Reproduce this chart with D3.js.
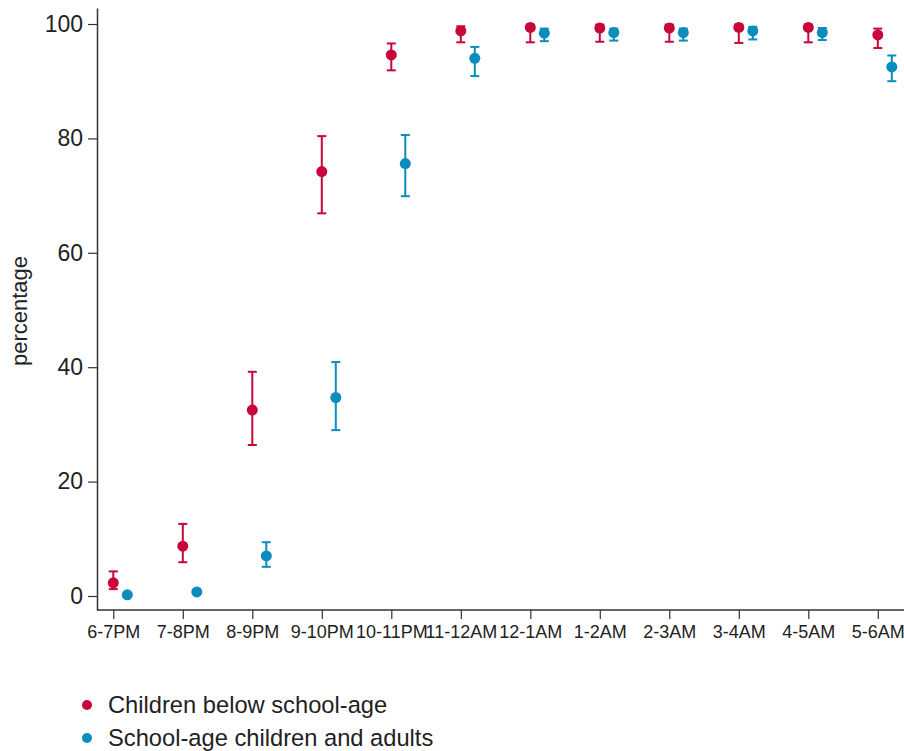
<!DOCTYPE html>
<html>
<head>
<meta charset="utf-8">
<script src="https://cdn.jsdelivr.net/npm/d3@7/dist/d3.min.js"></script>
<style>
  html, body { margin: 0; padding: 0; background: #fff; }
  svg { display: block; font-family: "Liberation Sans", Arial, sans-serif; }
</style>
</head>
<body>
<svg id="chart" width="904" height="751"></svg>
<script>
// ---- data ----
const categories = ["6-7PM","7-8PM","8-9PM","9-10PM","10-11PM","11-12AM","12-1AM","1-2AM","2-3AM","3-4AM","4-5AM","5-6AM"];
const seriesNames = ["Children below school-age", "School-age children and adults"];
const redValues = [2.3, 8.7, 32.5, 74.2, 94.6, 98.8, 99.4, 99.3, 99.3, 99.4, 99.4, 98.1];
const redLow    = [1.2, 5.9, 26.4, 66.9, 91.9, 96.8, 96.8, 96.9, 96.9, 96.7, 96.8, 95.8];
const redHigh   = [4.3, 12.6, 39.2, 80.4, 96.6, 99.6, 99.9, 99.9, 99.9, 99.9, 99.9, 99.2];
const blueValues = [0.2, 0.7, 7.0, 34.7, 75.6, 94.0, 98.4, 98.5, 98.5, 98.8, 98.5, 92.5];
const blueLow    = [0.1, 0.5, 5.1, 29.0, 69.9, 90.9, 97.0, 97.1, 97.1, 97.3, 97.2, 90.0];
const blueHigh   = [0.3, 0.9, 9.4, 40.9, 80.6, 96.0, 99.2, 99.2, 99.2, 99.5, 99.3, 94.5];
const yTicks = [0, 20, 40, 60, 80, 100];
const yLabel = "percentage";

// ---- styles ----
const colors = ["#c8063a", "#0a8cbc"];
const axisColor = "#333";

const svg = d3.select("#chart");

const x = d3.scalePoint().domain(categories).range([113.3, 877.8]);
const y = d3.scaleLinear().domain([-2.45, 102.8]).range([610, 8]);
const offset = [0, 14];

// y axis
const yAxis = svg.append("g")
  .attr("transform", "translate(97,0)")
  .call(d3.axisLeft(y).tickValues(yTicks).tickSize(9).tickSizeOuter(0).tickPadding(5));
yAxis.select(".domain").attr("stroke", axisColor).attr("stroke-width", 1.5);
yAxis.selectAll(".tick line").attr("stroke", axisColor).attr("stroke-width", 1.2);
yAxis.selectAll(".tick text").attr("font-size", 23).attr("fill", "#222")
  .attr("font-family", "Liberation Sans, Arial, sans-serif");

// x axis
const xAxis = svg.append("g")
  .attr("transform", "translate(0,610)")
  .call(d3.axisBottom(x).tickSize(9).tickSizeOuter(0).tickPadding(6));
xAxis.select(".domain").remove();
xAxis.append("line").attr("x1", 97).attr("x2", 904).attr("y1", 0).attr("y2", 0)
  .attr("stroke", axisColor).attr("stroke-width", 1.5);
xAxis.selectAll(".tick line").attr("stroke", axisColor).attr("stroke-width", 1.2);
xAxis.selectAll(".tick text").attr("font-size", 18).attr("fill", "#222")
  .attr("font-family", "Liberation Sans, Arial, sans-serif");

// y label
svg.append("text")
  .attr("transform", "translate(27,311) rotate(-90)")
  .attr("text-anchor", "middle")
  .attr("font-size", 22)
  .attr("fill", "#222")
  .text(yLabel);

// series
const series = [
  {vals: redValues, lo: redLow, hi: redHigh},
  {vals: blueValues, lo: blueLow, hi: blueHigh}
];
const capHalf = 4.5;
series.forEach((s, si) => {
  const g = svg.append("g");
  const data = categories.map((c, i) => ({c, v: s.vals[i], lo: s.lo[i], hi: s.hi[i]}));
  const cx = d => x(d.c) + offset[si];
  g.selectAll("line.stem").data(data).join("line")
    .attr("x1", cx).attr("x2", cx)
    .attr("y1", d => y(d.lo)).attr("y2", d => y(d.hi))
    .attr("stroke", colors[si]).attr("stroke-width", 2);
  g.selectAll("line.capl").data(data).join("line")
    .attr("x1", d => cx(d) - capHalf).attr("x2", d => cx(d) + capHalf)
    .attr("y1", d => y(d.lo)).attr("y2", d => y(d.lo))
    .attr("stroke", colors[si]).attr("stroke-width", 2);
  g.selectAll("line.caph").data(data).join("line")
    .attr("x1", d => cx(d) - capHalf).attr("x2", d => cx(d) + capHalf)
    .attr("y1", d => y(d.hi)).attr("y2", d => y(d.hi))
    .attr("stroke", colors[si]).attr("stroke-width", 2);
  g.selectAll("circle").data(data).join("circle")
    .attr("cx", cx).attr("cy", d => y(d.v)).attr("r", 5.5)
    .attr("fill", colors[si]);
});

// legend
const legend = svg.append("g");
seriesNames.forEach((name, i) => {
  const ly = 705 + i * 33;
  legend.append("circle").attr("cx", 87).attr("cy", ly).attr("r", 5).attr("fill", colors[i]);
  legend.append("text").attr("x", 108).attr("y", ly + 8)
    .attr("font-size", 23.7).attr("fill", "#222").text(name);
});
</script>
</body>
</html>
